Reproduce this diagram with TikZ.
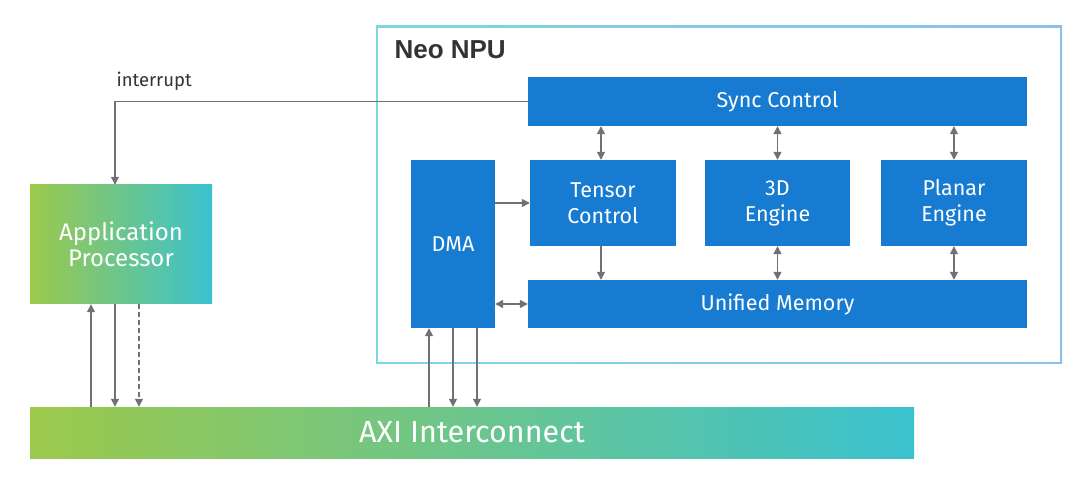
\documentclass[tikz,border=0pt]{standalone}
\usepackage{fontspec}
\setmainfont{Fira Sans}
\newfontfamily\headfont{Liberation Sans}
\usepackage{xcolor}
\usetikzlibrary{positioning,calc,arrows.meta}

\definecolor{npublue}{HTML}{167BD1}
\definecolor{linkgray}{HTML}{707075}
\definecolor{axigreen}{HTML}{9CC94B}
\definecolor{axicyan}{HTML}{3AC2CF}
\definecolor{framecyan}{HTML}{7DD6E2}
\definecolor{frameblue}{HTML}{8CC0EA}

\tikzset{
    block/.style={rectangle, fill=npublue, text=white, align=center, inner sep=0pt,
        font=\fontsize{21.5}{26}\selectfont},
    gradblock/.style={rectangle, left color=axigreen, right color=axicyan, text=white,
        align=center, inner sep=0pt},
    link/.style={draw=linkgray, line width=1.3pt, -{Triangle[length=8pt,width=8pt]}},
    duplink/.style={link, {Triangle[length=8pt,width=8pt]}-{Triangle[length=8pt,width=8pt]}},
}

\begin{document}
\begin{tikzpicture}[x=1pt, y=-1pt]
    \useasboundingbox (0,0) rectangle (1090,486);
    % NPU frame
    \shade[left color=framecyan, right color=frameblue] (376,26) rectangle (1062,364);
    \fill[white] (378,28) rectangle (1060,362);
    \node[anchor=west, font=\headfont\bfseries\fontsize{26}{30}\selectfont, text=black!80] (npulabel) at (391,50) {Neo NPU};

    % blocks
    \node[block, minimum width=499pt, minimum height=49pt] (sync) at (777.5,101.5) {Sync Control};
    \node[block, minimum width=146pt, minimum height=86pt] (tensor) at (603,203) {Tensor\\Control};
    \node[block, minimum width=145pt, minimum height=86pt] (engine3d) at (777.5,203) {3D\\Engine};
    \node[block, minimum width=146pt, minimum height=86pt] (planar) at (954,203) {Planar\\Engine};
    \node[block, minimum width=499pt, minimum height=48pt] (unified) at (777.5,304) {Unified Memory};
    \node[block, minimum width=84pt, minimum height=168pt] (dma) at (453,244) {DMA};
    \node[gradblock, minimum width=182pt, minimum height=119pt, font=\fontsize{24}{26}\selectfont] (app) at (121,244.5) {Application\\Processor};
    \node[gradblock, minimum width=884pt, minimum height=51pt, font=\fontsize{30.5}{34}\selectfont] (axi) at (472,432.5) {AXI Interconnect};

    % interrupt
    \draw[link] (sync.west) -| ([xshift=-6pt]app.north);
    \node[anchor=west, font=\fontsize{18.5}{22}\selectfont, text=black!80] (irqlabel) at (113,81) {interrupt};

    % application processor <-> AXI
    \draw[link] ([xshift=-30pt]axi.north -| app.south) -- ([xshift=-30pt]app.south);
    \draw[link] ([xshift=-6pt]app.south) -- ([xshift=-6pt]axi.north -| app.south);
    \draw[link, dashed, dash pattern=on 5pt off 3pt] ([xshift=18pt]app.south) -- ([xshift=18pt]axi.north -| app.south);

    % DMA <-> AXI
    \draw[link] ([xshift=-24pt]axi.north -| dma.south) -- ([xshift=-24pt]dma.south);
    \draw[link] (dma.south) -- (axi.north -| dma.south);
    \draw[link] ([xshift=24pt]dma.south) -- ([xshift=24pt]axi.north -| dma.south);

    % inside the NPU
    \draw[link] (dma.east |- tensor) -- (tensor.west);
    \draw[duplink] (dma.east |- unified) -- (unified.west);
    \draw[duplink] ([xshift=-2pt]sync.south -| tensor) -- ([xshift=-2pt]tensor.north);
    \draw[duplink] (sync.south -| engine3d) -- (engine3d.north);
    \draw[duplink] (sync.south -| planar) -- (planar.north);
    \draw[link] ([xshift=-2pt]tensor.south) -- ([xshift=-2pt]unified.north -| tensor);
    \draw[duplink] (engine3d.south) -- (unified.north -| engine3d);
    \draw[duplink] (planar.south) -- (unified.north -| planar);
\end{tikzpicture}
\end{document}
